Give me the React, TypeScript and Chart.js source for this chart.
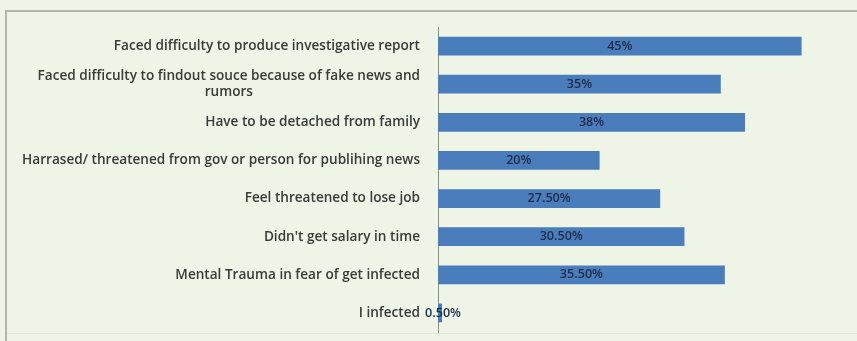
import React, { useEffect, useRef } from "react";
import { Chart, registerables } from "chart.js";

Chart.register(...registerables);

const categories: string[][] = [
  ["Faced difficulty to produce investigative report"],
  ["Faced difficulty to findout souce because of fake news and", "rumors"],
  ["Have to be detached from family"],
  ["Harrased/ threatened from gov or person for publihing news"],
  ["Feel threatened to lose job"],
  ["Didn't get salary in time"],
  ["Mental Trauma in fear of get infected"],
  ["I infected"],
];
const values: number[] = [45, 35, 38, 20, 27.5, 30.5, 35.5, 0.5];
const valueLabels: string[] = ["45%", "35%", "38%", "20%", "27.50%", "30.50%", "35.50%", "0.50%"];

const BG = "#eef4e6";
const LABEL_FONT = "600 13.6px 'Open Sans', 'Liberation Sans', Arial, sans-serif";
const VALUE_FONT = "600 12.6px 'Open Sans', 'Liberation Sans', Arial, sans-serif";

const decorPlugin = {
  id: "decor",
  beforeDraw(chart: any) {
    const ctx = chart.ctx;
    ctx.save();
    ctx.fillStyle = BG;
    ctx.fillRect(0, 0, chart.width, chart.height);
    ctx.strokeStyle = "#b2b6ad";
    ctx.lineWidth = 2;
    ctx.beginPath();
    ctx.moveTo(6, chart.height);
    ctx.lineTo(6, 11);
    ctx.lineTo(chart.width, 11);
    ctx.stroke();
    ctx.strokeStyle = "#e2e8dc";
    ctx.lineWidth = 1;
    ctx.beginPath();
    ctx.moveTo(7, 333.5);
    ctx.lineTo(chart.width, 333.5);
    ctx.stroke();
    ctx.restore();
  },
  afterDraw(chart: any) {
    const ctx = chart.ctx;
    const yScale = chart.scales.y;
    const xScale = chart.scales.x;
    ctx.save();
    // category labels
    ctx.font = LABEL_FONT;
    ctx.fillStyle = "#3a3a3a";
    ctx.textBaseline = "middle";
    const rightEdge = chart.chartArea.left - 18;
    const lineH = 16;
    categories.forEach((lines, i) => {
      const cy = yScale.getPixelForValue(i);
      const widths = lines.map((l) => ctx.measureText(l).width);
      const maxW = Math.max(...widths);
      const center = rightEdge - maxW / 2;
      ctx.textAlign = "center";
      lines.forEach((l, j) => {
        const y = cy + (j - (lines.length - 1) / 2) * lineH;
        ctx.fillText(l, center, y);
      });
    });
    // value labels
    ctx.font = VALUE_FONT;
    ctx.fillStyle = "#1e2c48";
    ctx.textAlign = "center";
    values.forEach((v, i) => {
      const cy = yScale.getPixelForValue(i);
      const x0 = xScale.getPixelForValue(0);
      const x1 = xScale.getPixelForValue(v);
      ctx.fillText(valueLabels[i], (x0 + x1) / 2 + (v < 2 ? 3 : 0), cy);
    });
    ctx.restore();
  },
};

export default function App() {
  const ref = useRef<HTMLCanvasElement>(null);
  useEffect(() => {
    document.body.style.margin = "0";
    const chart = new Chart(ref.current!, {
      type: "bar",
      data: {
        labels: categories.map((c) => c.join(" ")),
        datasets: [
          {
            data: values,
            backgroundColor: "#4a7dbc",
            borderColor: "#4a7dbc",
            borderWidth: 0,
            barPercentage: 0.49,
            categoryPercentage: 1,
          },
        ],
      },
      options: {
        indexAxis: "y",
        animation: false,
        responsive: false,
        maintainAspectRatio: false,
        layout: { padding: { top: 27, bottom: 9, right: 15, left: 0 } },
        plugins: { legend: { display: false }, tooltip: { enabled: false } },
        scales: {
          x: {
            min: 0,
            max: 50,
            display: false,
            grid: { display: false },
          },
          y: {
            grid: { display: false, drawTicks: false },
            border: { display: true, color: "#8a8f86", width: 1 },
            ticks: { display: false },
            afterFit: (s: any) => {
              s.width = 438;
            },
          },
        },
      },
      plugins: [decorPlugin],
    });
    return () => chart.destroy();
  }, []);
  return (
    <div style={{ position: "absolute", left: 0, top: 0, width: 857, height: 341, background: BG }}>
      <canvas ref={ref} width={857} height={341} style={{ display: "block" }} />
    </div>
  );
}
